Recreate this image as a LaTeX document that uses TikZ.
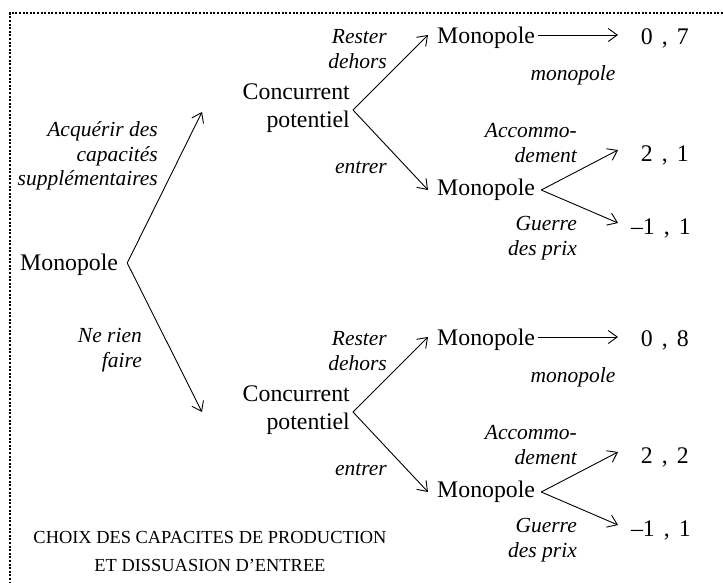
\documentclass[tikz,border=0pt]{standalone}
\usepackage{fontspec}
\setmainfont{Liberation Serif}
\usetikzlibrary{arrows.meta,calc}
\begin{document}
\begin{tikzpicture}[x=1pt,y=-1pt,
  main/.style={inner sep=0pt,font=\fontsize{23.8}{27.5}\selectfont},
  lab/.style={inner sep=0pt,font=\fontsize{21.5}{24.5}\selectfont\itshape,align=right},
  captext/.style={inner sep=0pt,font=\fontsize{18.4}{28}\selectfont,align=center},
  arr/.style={line width=0.9pt,-{Straight Barb[length=9pt,width=13pt,line width=0.9pt]}},
  frameline/.style={line width=2.2pt,dash pattern=on 2pt off 1.6pt}
]
\useasboundingbox (0,0) rectangle (723,582);
\draw[frameline] (723,13) -- (10,13) -- (10,582);

% root
\node[main,anchor=west] (root) at (20,265) {Monopole};
\coordinate (rv) at ($(root.east)+(9,-2)$);
\coordinate (rt1) at (202,112);
\coordinate (rt2) at (202,412);
\node[lab,anchor=east] (lacq) at (158,156) {Acquérir des\\capacités\\supplémentaires};
\node[lab,anchor=east] (lnr) at (142,350) {Ne rien\\faire};

\foreach \o/\pa/\pb/\n in {0/7/1/1,302/8/2/2}{
  \begin{scope}[yshift=-\o pt]
    \node[main,anchor=west] (ma\n) at (437,38) {Monopole};
    \node[main,anchor=west] (mb\n) at (437,190) {Monopole};
    \node[main,align=right,anchor=east] (c\n) at (350,108) {Concurrent\\potentiel};
    \node[main,anchor=east] (pa\n) at (689,38) {0\kern.38em,\kern.38em\pa};
    \node[main,anchor=east] (pb\n) at (689,155) {2\kern.38em,\kern.38em\pb};
    \node[main,anchor=east] (pc\n) at (691,228) {–1\kern.38em,\kern.38em1};
    \node[lab,anchor=east] (lr\n) at (387,49) {Rester\\dehors};
    \node[lab] (lm\n) at (573,75) {monopole};
    \node[lab,anchor=east] (le\n) at (387,168) {entrer};
    \node[lab,anchor=east] (lac\n) at (577,143) {Accommo-\\dement};
    \node[lab,anchor=east] (lg\n) at (577,238) {Guerre\\des prix};
    \coordinate (cv\n) at ($(c\n.east)+(3,2)$);
    \coordinate (ta\n) at (428,35);
    \coordinate (tb\n) at (428,190);
    \coordinate (hs\n) at ($(ma\n.east)+(3,-3)$);
    \coordinate (he\n) at (618,35);
    \coordinate (mv\n) at ($(mb\n.east)+(6,0)$);
    \coordinate (ua\n) at (618,150);
    \coordinate (ub\n) at (618,223);
    \draw[arr] (cv\n) -- (ta\n);
    \draw[arr] (cv\n) -- (tb\n);
    \draw[arr] (hs\n) -- (he\n);
    \draw[arr] (mv\n) -- (ua\n);
    \draw[arr] (mv\n) -- (ub\n);
  \end{scope}
}
\draw[arr] (rv) -- (rt1);
\draw[arr] (rv) -- (rt2);

\node[captext] (captn) at (210,551) {CHOIX DES CAPACITES DE PRODUCTION\\ET DISSUASION D’ENTREE};
\end{tikzpicture}
\end{document}
